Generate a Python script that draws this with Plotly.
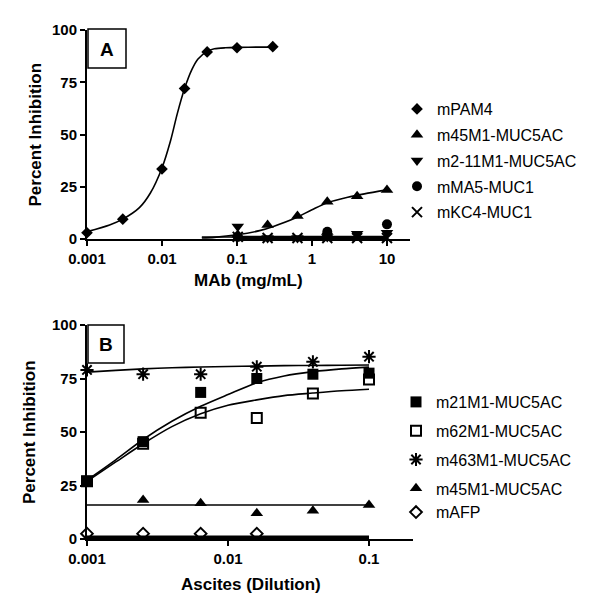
import plotly.graph_objects as go

# ---------------- Panel A : MAb (mg/mL) ----------------
a_xticks = [0.001, 0.01, 0.1, 1, 10]
a_xticktext = ["0.001", "0.01", "0.1", "1", "10"]
y_ticks = [0, 25, 50, 75, 100]

pam4_x = [0.001, 0.003, 0.01, 0.02, 0.04, 0.1, 0.3]
pam4_y = [3, 9.5, 33.5, 72, 89.5, 91.5, 92]
pam4_fit_x = [0.001, 0.002, 0.003, 0.005, 0.007, 0.01, 0.013, 0.016, 0.02, 0.025, 0.03, 0.04, 0.05, 0.07, 0.1, 0.2, 0.3]
pam4_fit_y = [3.5, 6.7, 9.5, 15, 22, 34, 47, 60, 72, 81, 86, 89.8, 91, 91.5, 91.7, 91.8, 91.8]

a45_x = [0.1024, 0.256, 0.64, 1.6, 4, 10]
a45_y = [2, 6.7, 11, 17.8, 20.5, 23.5]
a45_fit_x = [0.034, 0.05, 0.1, 0.2, 0.3, 0.6, 1, 1.6, 3, 5, 10]
a45_fit_y = [0.5, 0.8, 2, 4, 5.9, 10, 14, 17.4, 20, 21.6, 23.5]

a211_x = [0.1024, 0.256, 0.64, 1.6, 4, 10]
a211_y = [6, 0.5, 0.5, 1, 2.5, 3]
a211_fit_x = [0.034, 10]
a211_fit_y = [1, 1]

ma5_x = [0.1024, 1.6, 10]
ma5_y = [1, 3.5, 7]
ma5_fit_x = [0.1, 10]
ma5_fit_y = [1, 1]

kc4_x = [0.1024, 0.256, 0.64, 1.6, 4, 10]
kc4_y = [1, 0.5, 0.5, 0.5, 0.5, 0.5]
kc4_fit_x = [0.1, 10]
kc4_fit_y = [0.5, 0.5]

# ---------------- Panel B : Ascites (Dilution) ----------------
b_xticks = [0.001, 0.01, 0.1]
b_xticktext = ["0.001", "0.01", "0.1"]
dil = [0.001, 0.0025, 0.0064, 0.016, 0.04, 0.1]

m21_y = [27, 45.5, 68.5, 75, 77, 77.5]
m62_y = [27, 44.5, 59, 56.5, 68, 74.5]
m463_y = [79, 77, 77, 80.5, 82.8, 85.2]
b45_x = [0.0025, 0.0064, 0.016, 0.04, 0.1]
b45_y = [18.2, 16.7, 12, 13.2, 15.9]
afp_x = [0.001, 0.0025, 0.0064, 0.016]
afp_y = [2.5, 2.5, 2.5, 2.5]

b_fit_x = [0.001, 0.0016, 0.0025, 0.004, 0.0064, 0.01, 0.016, 0.025, 0.04, 0.064, 0.1]
m21_fit_y = [27.5, 37, 46.5, 55, 62, 67.5, 73, 76.2, 78.2, 79.5, 80.3]
m62_fit_y = [27, 36, 44.5, 52.5, 58.5, 62.5, 65, 67, 68.2, 69.3, 70]
m463_fit_y = [78, 78.8, 79.5, 80, 80.4, 80.6, 80.8, 81, 81.1, 81.2, 81.3]
b45_fit_x = [0.001, 0.1]
b45_fit_y = [15.9, 15.9]
afp_fit_x = [0.001, 0.1]
afp_fit_y = [0.7, 0.7]

# The page body has an 8px margin, so the figure sits at (8, 8) in the window.
OFF = 8
W, H = 600 - OFF, 594 - OFF
def px(x): return (x - OFF) / W
def py(y): return 1 - (y - OFF) / H

FONT = "Liberation Sans, Arial, sans-serif"
fig = go.Figure()

def markers(x, y, name, symbol, size, xa, ya, legend, group=None, lw=0):
    fig.add_trace(go.Scatter(
        x=x, y=y, mode="markers", name=name, xaxis=xa, yaxis=ya, legend=legend,
        legendgroup=group if group else name, cliponaxis=False,
        marker=dict(symbol=symbol, size=size, color="black",
                    line=dict(color="black", width=lw))))

def curve(x, y, xa, ya, width=1.6, shape="spline"):
    fig.add_trace(go.Scatter(
        x=x, y=y, mode="lines", showlegend=False, xaxis=xa, yaxis=ya, cliponaxis=False,
        line=dict(color="black", width=width, shape=shape, smoothing=0.8), hoverinfo="skip"))

# Panel A curves
curve(pam4_fit_x, pam4_fit_y, "x", "y")
curve(a45_fit_x, a45_fit_y, "x", "y")
curve(a211_fit_x, a211_fit_y, "x", "y", width=1.5, shape="linear")
curve(ma5_fit_x, ma5_fit_y, "x", "y", width=2.5, shape="linear")
curve(kc4_fit_x, kc4_fit_y, "x", "y", width=2.5, shape="linear")
# Panel A markers
markers(pam4_x, pam4_y, "mPAM4", "diamond", 9, "x", "y", "legend")
markers(a45_x, a45_y, "m45M1-MUC5AC", "triangle-up", 11, "x", "y", "legend")
markers(a211_x, a211_y, "m2-11M1-MUC5AC", "triangle-down", 11, "x", "y", "legend")
markers(ma5_x, ma5_y, "mMA5-MUC1", "circle", 10, "x", "y", "legend")
markers(kc4_x, kc4_y, "mKC4-MUC1", "x-thin-open", 10, "x", "y", "legend", lw=2)

# Panel B curves
curve(b_fit_x, m21_fit_y, "x2", "y2")
curve(b_fit_x, m62_fit_y, "x2", "y2")
curve(b_fit_x, m463_fit_y, "x2", "y2")
curve(b45_fit_x, b45_fit_y, "x2", "y2", shape="linear")
curve(afp_fit_x, afp_fit_y, "x2", "y2", width=4, shape="linear")
# Panel B markers
markers(dil, m21_y, "m21M1-MUC5AC", "square", 11, "x2", "y2", "legend2")
markers(dil, m62_y, "m62M1-MUC5AC", "square-open", 10, "x2", "y2", "legend2", lw=2)
markers(dil, m463_y, "m463M1-MUC5AC", "asterisk-open", 11, "x2", "y2", "legend2", lw=2)
markers(b45_x, b45_y, "m45M1-MUC5AC", "triangle-up", 11, "x2", "y2", "legend2", group="last")
markers(afp_x, afp_y, "mAFP", "diamond-open", 9, "x2", "y2", "legend2", group="last", lw=2)

axis_common = dict(showline=True, linecolor="black", linewidth=2, ticks="outside",
                   ticklen=5, tickwidth=2, tickcolor="black", showgrid=False, zeroline=False,
                   automargin=False,
                   tickfont=dict(family=FONT, size=15, color="black", weight="bold"))

def label(text, x, y, size=17, angle=0):
    return dict(text=text, x=px(x), y=py(y), xref="paper", yref="paper", showarrow=False,
                xanchor="center", yanchor="middle", textangle=angle,
                font=dict(family=FONT, size=size, color="black", weight="bold"))

fig.update_layout(
    width=W, height=H, margin=dict(l=0, r=0, t=0, b=0, pad=0, autoexpand=False),
    paper_bgcolor="white", plot_bgcolor="white",
    xaxis=dict(type="log", range=[-3, 1.307], domain=[px(87), px(410)], anchor="y",
               tickvals=a_xticks, ticktext=a_xticktext, **axis_common),
    yaxis=dict(range=[0, 100], domain=[py(239), py(30)], anchor="x",
               tickvals=y_ticks, **axis_common),
    xaxis2=dict(type="log", range=[-3, -0.688], domain=[px(87), px(413)], anchor="y2",
                tickvals=b_xticks, ticktext=b_xticktext, **axis_common),
    yaxis2=dict(range=[0, 100], domain=[py(539), py(325)], anchor="x2",
                tickvals=y_ticks, **axis_common),
    legend=dict(x=px(397), y=py(92), xanchor="left", yanchor="top",
                traceorder="grouped", tracegroupgap=2, bgcolor="rgba(0,0,0,0)",
                font=dict(family=FONT, size=16, color="black")),
    legend2=dict(x=px(396), y=py(385), xanchor="left", yanchor="top",
                 traceorder="grouped", tracegroupgap=5, bgcolor="rgba(0,0,0,0)",
                 font=dict(family=FONT, size=16, color="black")),
    showlegend=True,
    shapes=[
        dict(type="rect", xref="paper", yref="paper", x0=px(88), x1=px(126), y0=py(68), y1=py(29),
             line=dict(color="black", width=1.5), fillcolor="white", layer="below"),
        dict(type="rect", xref="paper", yref="paper", x0=px(88), x1=px(124), y0=py(363), y1=py(325),
             line=dict(color="black", width=1.5), fillcolor="white", layer="below"),
    ],
    annotations=[
        label("A", 107, 49, size=19),
        label("B", 106, 344, size=19),
        label("Percent Inhibition", 35, 134.5, angle=-90),
        label("MAb (mg/mL)", 248, 281),
        label("Percent Inhibition", 29, 432, angle=-90),
        label("Ascites (Dilution)", 251, 584),
    ],
)

fig.write_html("out.html")
